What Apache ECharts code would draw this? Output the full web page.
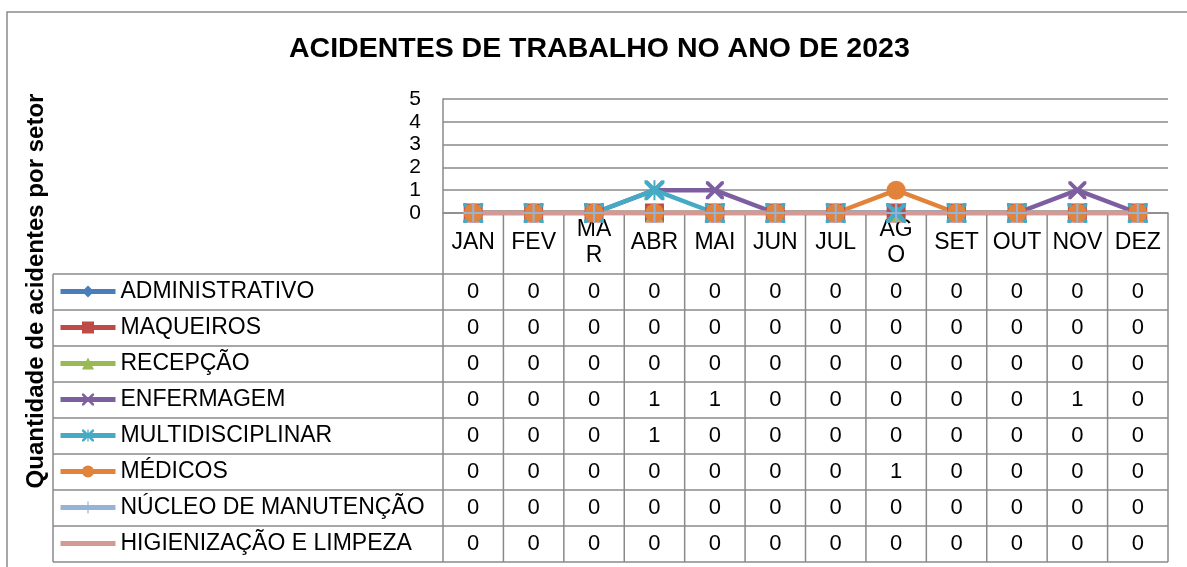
<!DOCTYPE html>
<html>
<head>
<meta charset="utf-8">
<title>Acidentes de trabalho 2023</title>
<script src="https://cdn.jsdelivr.net/npm/echarts@6/dist/echarts.min.js"></script>
<style>
  html, body { margin: 0; padding: 0; background: #fff; }
  #main { width: 1187px; height: 567px; }
</style>
</head>
<body>
<div id="main"></div>
<script>
// dados do gráfico
var months = ['JAN', 'FEV', 'MAR', 'ABR', 'MAI', 'JUN', 'JUL', 'AGO', 'SET', 'OUT', 'NOV', 'DEZ'];
var monthLabels = ['JAN', 'FEV', 'MA\nR', 'ABR', 'MAI', 'JUN', 'JUL', 'AG\nO', 'SET', 'OUT', 'NOV', 'DEZ'];
var sectors = ['ADMINISTRATIVO', 'MAQUEIROS', 'RECEPÇÃO', 'ENFERMAGEM', 'MULTIDISCIPLINAR', 'MÉDICOS', 'NÚCLEO DE MANUTENÇÃO', 'HIGIENIZAÇÃO E LIMPEZA'];
var administrativo   = [0, 0, 0, 0, 0, 0, 0, 0, 0, 0, 0, 0];
var maqueiros        = [0, 0, 0, 0, 0, 0, 0, 0, 0, 0, 0, 0];
var recepcao         = [0, 0, 0, 0, 0, 0, 0, 0, 0, 0, 0, 0];
var enfermagem       = [0, 0, 0, 1, 1, 0, 0, 0, 0, 0, 1, 0];
var multidisciplinar = [0, 0, 0, 1, 0, 0, 0, 0, 0, 0, 0, 0];
var medicos          = [0, 0, 0, 0, 0, 0, 0, 1, 0, 0, 0, 0];
var nucleo           = [0, 0, 0, 0, 0, 0, 0, 0, 0, 0, 0, 0];
var higienizacao     = [0, 0, 0, 0, 0, 0, 0, 0, 0, 0, 0, 0];
var yTicks = [0, 1, 2, 3, 4, 5];

var seriesData = [administrativo, maqueiros, recepcao, enfermagem, multidisciplinar, medicos, nucleo, higienizacao];
var colors = ['#4A7EBB', '#BE4B48', '#98B954', '#7D5FA0', '#46AAC4', '#E3823B', '#95B3D7', '#D49895'];

// marcadores parecidos com os do Excel
var xPath = 'path://M0,0 L3,0 L10,7 L17,0 L20,0 L20,3 L13,10 L20,17 L20,20 L17,20 L10,13 L3,20 L0,20 L0,17 L7,10 L0,3 Z';
var starPath = 'path://M0,0 L3,0 L10,7 L17,0 L20,0 L20,3 L13,10 L20,17 L20,20 L17,20 L10,13 L3,20 L0,20 L0,17 L7,10 L0,3 Z M9,0 L11,0 L11,20 L9,20 Z';
var plusPath = 'path://M9,0 L11,0 L11,9 L20,9 L20,11 L11,11 L11,20 L9,20 L9,11 L0,11 L0,9 L9,9 Z';
var symbols = ['diamond', 'rect', 'triangle', xPath, starPath, 'circle', plusPath, 'none'];
var symbolSizes = [18, 19, 18, 18, 20, 19, 20, 0];

var font = "'Liberation Sans', Arial, sans-serif";
var gridColor = '#8a8a8a';

var series = sectors.map(function (name, i) {
  return {
    name: name,
    type: 'line',
    data: seriesData[i],
    symbol: symbols[i],
    symbolSize: symbolSizes[i],
    showAllSymbol: true,
    color: colors[i],
    lineStyle: { width: 4.5, color: colors[i] },
    itemStyle: { color: colors[i], borderColor: colors[i], borderWidth: 0 },
    animation: false
  };
});

// itens da legenda (o último não tem marcador)
var legendItems = sectors.map(function (name, i) {
  if (symbols[i] === 'none') {
    return { name: name, itemStyle: { opacity: 0 } };
  }
  return { name: name };
});

var chart = echarts.init(document.getElementById('main'));

var option = {
  animation: false,
  textStyle: { fontFamily: font },
  title: {
    text: 'ACIDENTES DE TRABALHO NO ANO DE 2023',
    left: 289,
    top: 35,
    padding: 0,
    textStyle: { fontFamily: font, fontSize: 28.5, fontWeight: 'bold', color: '#000' }
  },
  grid: { left: 443, right: 19, top: 99, bottom: 354 },
  legend: {
    orient: 'vertical',
    left: 58,
    top: 280,
    padding: 0,
    itemWidth: 55,
    itemHeight: 15,
    itemGap: 13,
    selectedMode: false,
    data: legendItems,
    lineStyle: { width: 5 },
    textStyle: { fontFamily: font, fontSize: 23, lineHeight: 22, color: '#000' }
  },
  xAxis: {
    type: 'category',
    data: months,
    boundaryGap: true,
    axisLine: { show: true, lineStyle: { color: gridColor, width: 1.5 } },
    axisTick: { show: false },
    axisLabel: {
      interval: 0,
      margin: 30,
      verticalAlign: 'middle',
      fontFamily: font,
      fontSize: 23,
      lineHeight: 26,
      color: '#000',
      formatter: function (v, i) { return monthLabels[i]; }
    },
    splitLine: { show: false }
  },
  yAxis: {
    type: 'value',
    min: yTicks[0],
    max: yTicks[yTicks.length - 1],
    interval: 1,
    axisLine: { show: true, lineStyle: { color: gridColor, width: 1.5 } },
    axisTick: { show: false },
    axisLabel: { margin: 22, fontFamily: font, fontSize: 21, color: '#000' },
    splitLine: { show: true, lineStyle: { color: gridColor, width: 1.5 } }
  },
  series: series
};

chart.setOption(option);

// tabela de dados embaixo do gráfico
var tableTop = 274;
var rowH = 36;
var tableLeft = 53;
var headerTop = 213;
var c0 = chart.convertToPixel({ xAxisIndex: 0 }, 0);
var c1 = chart.convertToPixel({ xAxisIndex: 0 }, 1);
var band = c1 - c0;
var plotLeft = c0 - band / 2;
var plotRight = plotLeft + band * months.length;
var tableBottom = tableTop + rowH * sectors.length;

var graphics = [];
var lineStyle = { stroke: gridColor, lineWidth: 1.5 };

// borda do gráfico
graphics.push({ type: 'rect', shape: { x: 7, y: 12, width: 1300, height: 700 }, style: { fill: null, stroke: '#8c8c8c', lineWidth: 1.5 }, silent: true });

for (var r = 0; r <= sectors.length; r++) {
  var y = tableTop + r * rowH;
  graphics.push({ type: 'line', shape: { x1: tableLeft, y1: y, x2: plotRight, y2: y }, style: lineStyle, silent: true });
}
graphics.push({ type: 'line', shape: { x1: tableLeft, y1: tableTop, x2: tableLeft, y2: tableBottom }, style: lineStyle, silent: true });
for (var k = 0; k <= months.length; k++) {
  var x = plotLeft + k * band;
  graphics.push({ type: 'line', shape: { x1: x, y1: headerTop, x2: x, y2: tableBottom }, style: lineStyle, silent: true });
}

// valores da tabela
seriesData.forEach(function (arr, r) {
  arr.forEach(function (v, i) {
    graphics.push({
      type: 'text',
      x: chart.convertToPixel({ xAxisIndex: 0 }, i),
      y: tableTop + rowH * (r + 0.5),
      silent: true,
      style: { text: String(v), fontFamily: font, fontSize: 22, fill: '#000', align: 'center', verticalAlign: 'middle' }
    });
  });
});

// título do eixo y
graphics.push({
  type: 'text',
  x: 36,
  y: 291,
  rotation: Math.PI / 2,
  silent: true,
  style: { text: 'Quantidade de acidentes por setor', fontFamily: font, fontSize: 24, fontWeight: 'bold', fill: '#000', align: 'center', verticalAlign: 'middle' }
});

chart.setOption({ graphic: graphics });
</script>
</body>
</html>
